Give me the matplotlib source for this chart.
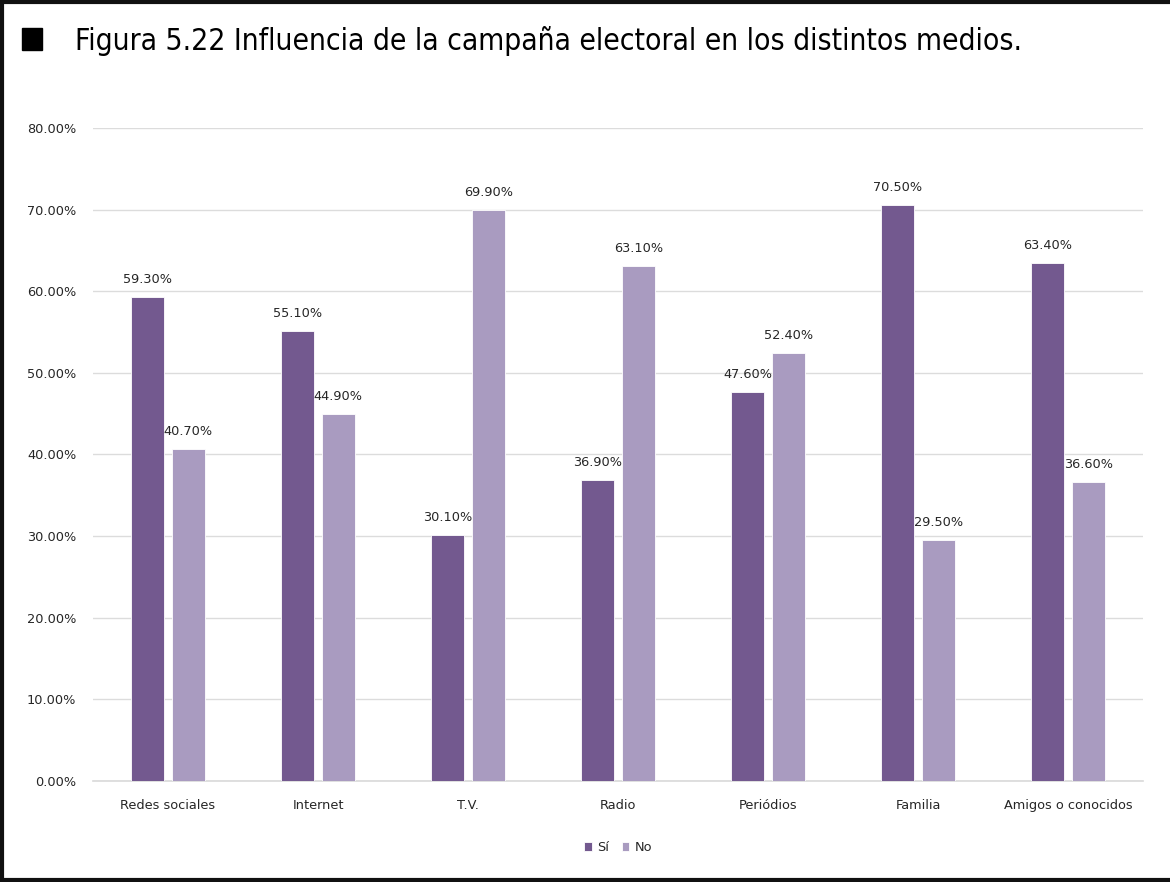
import numpy as np
import matplotlib.pyplot as plt
from matplotlib.patches import Rectangle
from matplotlib.lines import Line2D
from matplotlib.ticker import PercentFormatter

# ── Data ───────────────────────────────────────────────────────────────────────
medios = ['Redes sociales', 'Internet', 'T.V.', 'Radio',
          'Periódios', 'Familia', 'Amigos o conocidos']
si = [59.3, 55.1, 30.1, 36.9, 47.6, 70.5, 63.4]
no = [40.7, 44.9, 69.9, 63.1, 52.4, 29.5, 36.6]

title = 'Figura 5.22 Influencia de la campaña electoral en los distintos medios.'

c_si = '#73598f'
c_no = '#a99bc0'

# ── Figure ─────────────────────────────────────────────────────────────────────
fig = plt.figure(figsize=(11.7, 8.82), dpi=100)
ax = fig.add_axes([0.0795, 0.1145, 0.8975, 0.7405])

x = np.arange(len(medios))
w = 0.22
off = 0.135
b1 = ax.bar(x - off, si, w, color=c_si, edgecolor='white', lw=0.6, label='Sí', zorder=3)
b2 = ax.bar(x + off, no, w, color=c_no, edgecolor='white', lw=0.6, label='No', zorder=3)

for bars, vals in [(b1, si), (b2, no)]:
    for b, v in zip(bars, vals):
        ax.annotate(f'{v:.2f}%', (b.get_x() + b.get_width() / 2, v),
                    xytext=(0, 8), textcoords='offset points',
                    ha='center', va='bottom', fontsize=9.3, color='#262626')

ax.set_xlim(-0.5, len(medios) - 0.5)
ax.set_ylim(0, 80)
ax.set_yticks(np.arange(0, 81, 10))
ax.yaxis.set_major_formatter(PercentFormatter(decimals=2))
ax.set_xticks(x)
ax.set_xticklabels(medios)
ax.tick_params(axis='both', length=0, labelsize=9.3, labelcolor='#262626')
ax.tick_params(axis='y', pad=12)
ax.tick_params(axis='x', pad=13)
ax.grid(axis='y', color='#dcdcdc', lw=1.0, zorder=0)
for s in ['top', 'right', 'left']:
    ax.spines[s].set_visible(False)
ax.spines['bottom'].set_color('#d9d9d9')
ax.spines['bottom'].set_linewidth(1.2)

ax.legend(loc='upper center', bbox_to_anchor=(0.5, -0.074), ncol=2, frameon=False,
          fontsize=9.3, handlelength=0.6, handleheight=0.8, handletextpad=0.4,
          columnspacing=1.0, labelcolor='#262626')

# ── Title with square bullet ───────────────────────────────────────────────────
fig.patches.append(Rectangle((22 / 1170, 1 - 50 / 882), 20 / 1170, 22 / 882,
                             transform=fig.transFigure, color='black'))
fig.text(75 / 1170, 1 - 41 / 882, title, fontsize=21.5, fontstretch='condensed',
         family='DejaVu Sans', va='center', ha='left')

# frame around the page (open on the right)
for xs, ys in [((0.002, 0.002), (0.002, 0.998)),
               ((0.002, 1.0), (0.998, 0.998)),
               ((0.002, 1.0), (0.002, 0.002))]:
    fig.add_artist(Line2D(xs, ys, transform=fig.transFigure, color='#111111', lw=3))

fig.savefig('out.png', dpi=100)
